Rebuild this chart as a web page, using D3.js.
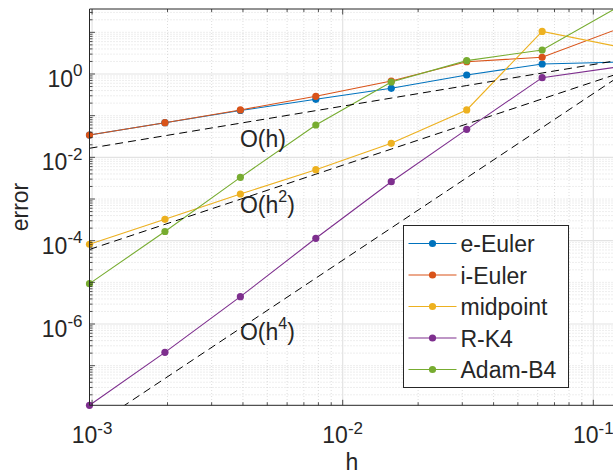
<!DOCTYPE html>
<html>
<head>
<meta charset="utf-8">
<script src="https://cdn.jsdelivr.net/npm/d3@7"></script>
<style>
  body { margin: 0; background: #fff; }
  svg { display: block; }
  text { font-family: "Liberation Sans", Arial, sans-serif; fill: #262626; }
</style>
</head>
<body>
<div id="chart-area"></div>
<script>
// step sizes h = 2^-10 ... 2^-3
var hValues = [1 / 1024, 1 / 512, 1 / 256, 1 / 128, 1 / 64, 1 / 32, 1 / 16, 1 / 8];

var seriesNames = ['e-Euler', 'i-Euler', 'midpoint', 'R-K4', 'Adam-B4'];
var eEuler = [0.0344, 0.0678, 0.133, 0.247, 0.454, 0.946, 1.74, 1.92];
var iEuler = [0.0344, 0.0678, 0.137, 0.292, 0.679, 1.97, 2.52, 12.0];
var midpoint = [8.2e-5, 3.26e-4, 1.32e-3, 5.05e-3, 0.0217, 0.137, 10.5, 4.55];
var rk4 = [1.12e-8, 2.09e-7, 4.53e-6, 1.14e-4, 2.6e-3, 0.047, 0.817, 1.47];
var adamB4 = [9.3e-6, 1.66e-4, 3.31e-3, 0.0597, 0.643, 2.09, 3.77, 39.8];
var colors = ['#0072BD', '#D95319', '#EDB120', '#7E2F8E', '#77AC30'];

// reference slopes C*h^p
var refOrders = [1, 2, 4];
var refCoefs = [16.9, 64.6, 3390];
var refLabelH = [1 / 256, 1 / 256, 1 / 256];
var refLabelErr = [0.0177, 4.6e-4, 4.1e-7];

var xTickExps = [-3, -2, -1];
var yTickExps = [0, -2, -4, -6];
var yLimits = [1.12e-8, 36.3];

var margin = { left: 89.5, right: 0, top: 9, bottom: 70.7 };
var svgW = 613, svgH = 476;
var plotRight = 617.6;
var width = plotRight - margin.left;
var height = svgH - margin.top - margin.bottom;

var svg = d3.select('#chart-area')
  .append('svg')
  .attr('width', svgW)
  .attr('height', svgH);

var g = svg.append('g')
  .attr('transform', 'translate(' + margin.left + ', ' + margin.top + ')');

var x = d3.scaleLog()
  .domain([hValues[0], hValues[hValues.length - 1]])
  .range([0, width]);

var y = d3.scaleLog()
  .domain(yLimits)
  .range([height, 0]);

// tick values
var xMajor = xTickExps.map(function(e) { return Math.pow(10, e); });
var xMinor = [];
for (var e = -4; e <= 0; e++) {
  for (var k = 2; k <= 9; k++) {
    var v = k * Math.pow(10, e);
    if (v >= x.domain()[0] && v <= x.domain()[1]) xMinor.push(v);
  }
}
var yMajor = yTickExps.map(function(e) { return Math.pow(10, e); });
var yDecades = [];
var yMinor = [];
for (var e2 = -9; e2 <= 2; e2++) {
  for (var k2 = 1; k2 <= 9; k2++) {
    var v2 = k2 * Math.pow(10, e2);
    if (v2 < yLimits[0] || v2 > yLimits[1]) continue;
    if (k2 === 1 && yTickExps.indexOf(e2) >= 0) continue;
    if (k2 === 1) yDecades.push(v2);
    yMinor.push(v2);
  }
}

// Minor grid (dotted)
g.append('g').selectAll('line')
  .data(xMinor).enter().append('line')
  .attr('x1', function(d) { return x(d); }).attr('x2', function(d) { return x(d); })
  .attr('y1', 0).attr('y2', height)
  .attr('stroke', '#d4d4d4').attr('stroke-width', 0.8).attr('stroke-dasharray', '1,2');
g.append('g').selectAll('line')
  .data(yMinor).enter().append('line')
  .attr('y1', function(d) { return y(d); }).attr('y2', function(d) { return y(d); })
  .attr('x1', 0).attr('x2', width)
  .attr('stroke', '#d4d4d4').attr('stroke-width', 0.8).attr('stroke-dasharray', '1,2');

// Major grid
g.append('g').selectAll('line')
  .data(xMajor).enter().append('line')
  .attr('x1', function(d) { return x(d); }).attr('x2', function(d) { return x(d); })
  .attr('y1', 0).attr('y2', height)
  .attr('stroke', '#e3e3e3').attr('stroke-width', 1.2);
g.append('g').selectAll('line')
  .data(yMajor).enter().append('line')
  .attr('y1', function(d) { return y(d); }).attr('y2', function(d) { return y(d); })
  .attr('x1', 0).attr('x2', width)
  .attr('stroke', '#e3e3e3').attr('stroke-width', 1.2);

// clip for plotted lines
svg.append('clipPath').attr('id', 'plot-clip')
  .append('rect').attr('x', 0).attr('y', 0).attr('width', width).attr('height', height);

var plot = g.append('g').attr('clip-path', 'url(#plot-clip)');

var line = d3.line()
  .x(function(d) { return x(d[0]); })
  .y(function(d) { return y(d[1]); });

var allSeries = [eEuler, iEuler, midpoint, rk4, adamB4];

allSeries.forEach(function(values, i) {
  var pts = hValues.map(function(h, j) { return [h, values[j]]; });
  plot.append('path')
    .datum(pts)
    .attr('fill', 'none')
    .attr('stroke', colors[i])
    .attr('stroke-width', 1.1)
    .attr('d', line);
  g.selectAll('circle.s' + i)
    .data(pts.filter(function(d) { return x(d[0]) <= width - 5; }))
    .enter().append('circle')
    .attr('cx', function(d) { return x(d[0]); })
    .attr('cy', function(d) { return y(d[1]); })
    .attr('r', 3.6)
    .attr('fill', colors[i]);
});

// reference slopes
refOrders.forEach(function(p, i) {
  var pts = hValues.map(function(h) { return [h, refCoefs[i] * Math.pow(h, p)]; });
  plot.append('path')
    .datum(pts)
    .attr('fill', 'none')
    .attr('stroke', '#000')
    .attr('stroke-width', 1)
    .attr('stroke-dasharray', '8,5')
    .attr('d', line);

  var t = g.append('text')
    .attr('x', x(refLabelH[i]) - 0.5)
    .attr('y', y(refLabelErr[i]))
    .attr('font-size', '23px');
  if (p === 1) {
    t.text('O(h)');
  } else {
    t.append('tspan').text('O(h');
    t.append('tspan').attr('font-size', '16px').attr('dy', -11).text(p);
    t.append('tspan').attr('dy', 11).text(')');
  }
});

// ticks (inward)
function tickLines(vals, len, side) {
  var sel = g.append('g').selectAll('line').data(vals).enter().append('line')
    .attr('stroke', '#262626').attr('stroke-width', 0.8);
  if (side === 'left') {
    sel.attr('x1', 0).attr('x2', len).attr('y1', function(d) { return y(d); }).attr('y2', function(d) { return y(d); });
  } else if (side === 'bottom') {
    sel.attr('y1', height).attr('y2', height - len).attr('x1', function(d) { return x(d); }).attr('x2', function(d) { return x(d); });
  } else if (side === 'top') {
    sel.attr('y1', 0).attr('y2', len).attr('x1', function(d) { return x(d); }).attr('x2', function(d) { return x(d); });
  }
}
tickLines(yMajor.concat(yDecades), 5.5, 'left');
tickLines(yMinor.filter(function(d) { return yDecades.indexOf(d) < 0; }), 3, 'left');
tickLines(xMajor, 5.5, 'bottom');
tickLines(xMinor, 3, 'bottom');
tickLines(xMajor, 5.5, 'top');
tickLines(xMinor, 3, 'top');

// axis lines
g.append('line').attr('x1', 0).attr('x2', 0).attr('y1', 0).attr('y2', height)
  .attr('stroke', '#262626').attr('stroke-width', 1);
g.append('line').attr('x1', 0).attr('x2', width).attr('y1', height).attr('y2', height)
  .attr('stroke', '#262626').attr('stroke-width', 1);
g.append('line').attr('x1', 0).attr('x2', width).attr('y1', 0).attr('y2', 0)
  .attr('stroke', '#262626').attr('stroke-width', 1);

// tick labels
yTickExps.forEach(function(e) {
  var t = g.append('text')
    .attr('x', -7)
    .attr('y', y(Math.pow(10, e)) + 13)
    .attr('text-anchor', 'end')
    .attr('font-size', '23px');
  t.append('tspan').text('10');
  t.append('tspan').attr('font-size', '17px').attr('dy', -10.5).text(e);
});
xTickExps.forEach(function(e) {
  var t = g.append('text')
    .attr('x', x(Math.pow(10, e)))
    .attr('y', height + 38)
    .attr('text-anchor', 'middle')
    .attr('font-size', '23px');
  t.append('tspan').text('10');
  t.append('tspan').attr('font-size', '17px').attr('dy', -9).text(e);
});

// axis labels
svg.append('text')
  .attr('x', 352)
  .attr('y', 470)
  .attr('text-anchor', 'middle')
  .attr('font-size', '23px')
  .text('h');
svg.append('text')
  .attr('transform', 'translate(28, 207) rotate(-90)')
  .attr('text-anchor', 'middle')
  .attr('font-size', '23px')
  .text('error');

// legend
var legend = svg.append('g').attr('transform', 'translate(403.5, 225.5)');
legend.append('rect')
  .attr('width', 165).attr('height', 162)
  .attr('fill', '#fff').attr('stroke', '#262626').attr('stroke-width', 1);
seriesNames.forEach(function(name, i) {
  var cy = 18 + i * 31.5;
  legend.append('line')
    .attr('x1', 5).attr('x2', 53).attr('y1', cy).attr('y2', cy)
    .attr('stroke', colors[i]).attr('stroke-width', 1.1);
  legend.append('circle')
    .attr('cx', 29).attr('cy', cy).attr('r', 3.6).attr('fill', colors[i]);
  legend.append('text')
    .attr('x', 57).attr('y', cy + 8.5)
    .attr('font-size', '23px')
    .text(name);
});
</script>
</body>
</html>
